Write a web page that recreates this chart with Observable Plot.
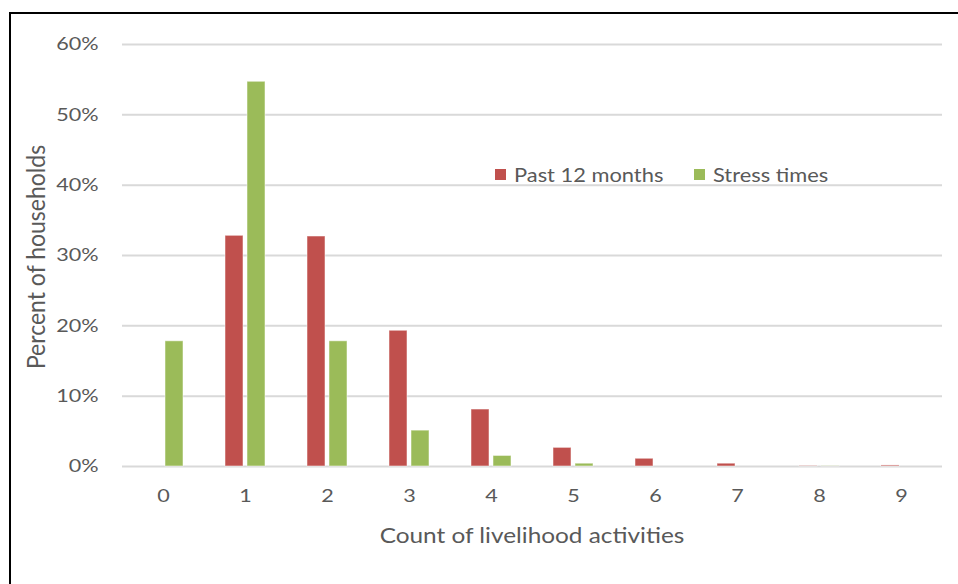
<!DOCTYPE html>
<html>
<head>
<meta charset="utf-8">
<script src="https://cdn.jsdelivr.net/npm/d3@7"></script>
<script src="https://cdn.jsdelivr.net/npm/@observablehq/plot@0.6"></script>
<style>
  html, body { margin: 0; padding: 0; background: #fff; }
  #wrap { position: relative; width: 958px; height: 584px; overflow: hidden; font-family: Lato, "Open Sans", sans-serif; color: #595959; }
  #frame { position: absolute; left: 9px; top: 12px; width: 1000px; height: 700px; border-left: 2px solid #000; border-top: 2px solid #000; box-sizing: border-box; }
  .ttl { position: absolute; color: #595959; white-space: nowrap; }
  .leg { position: absolute; top: 163px; font-size: 19px; color: #595959; white-space: nowrap; height: 24px; line-height: 24px; }
  .leg .sw { position: absolute; left: 0; top: 6px; width: 11px; height: 11px; }
  .leg .tx { position: absolute; left: 19px; top: 0; transform: scaleX(1.15); transform-origin: left center; }
</style>
</head>
<body>
<div id="wrap">
  <div id="chart"></div>
  <div id="frame"></div>
  <div class="ttl" id="xt" style="left:532px; top:522px; font-size:21px; transform: translateX(-50%) scaleX(1.16);">Count of livelihood activities</div>
  <div class="ttl" id="yt" style="left:35px; top:257px; font-size:23px; transform: translate(-50%,-50%) rotate(-90deg) scaleY(1.1);">Percent of households</div>
</div>
<script>
const categories = ["0","1","2","3","4","5","6","7","8","9"];
const seriesNames = ["Past 12 months", "Stress times"];
const past12 = [0, 32.8, 32.7, 19.3, 8.1, 2.65, 1.1, 0.4, 0.05, 0.15];
const stress = [17.8, 54.7, 17.8, 5.1, 1.5, 0.4, 0, 0, 0.03, 0];
const yTicks = [0, 10, 20, 30, 40, 50, 60];
const colors = ["#C0504D", "#9BBB59"];

const data = [];
categories.forEach((c, i) => {
  data.push({cat: c, series: seriesNames[0], value: past12[i]});
  data.push({cat: c, series: seriesNames[1], value: stress[i]});
});

const chart = Plot.plot({
  width: 958,
  height: 584,
  marginLeft: 122,
  marginRight: 16,
  marginTop: 44,
  marginBottom: 118,
  style: { fontFamily: "Lato, 'Open Sans', sans-serif", fontSize: "18px", color: "#595959", background: "transparent" },
  fx: { domain: categories, padding: 0, label: null, axis: "bottom", tickSize: 0, tickPadding: 23 },
  x: { domain: seriesNames, paddingInner: 0.174, paddingOuter: 0.87, axis: null },
  y: { domain: [0, 60], ticks: yTicks, tickFormat: d => d + "%", tickSize: 0, tickPadding: 24, label: null },
  color: { domain: seriesNames, range: colors },
  marks: [
    Plot.ruleY(yTicks, { stroke: "#d9d9d9", strokeWidth: 2 }),
    Plot.barY(data, { fx: "cat", x: "series", y: "value", fill: "series", stroke: "#fff", strokeOpacity: 0.5, strokeWidth: 1 })
  ]
});
document.getElementById("chart").appendChild(chart);

// widen tick label glyphs horizontally about their anchor, as in the reference
chart.querySelectorAll("text").forEach(t => {
  const tr = t.getAttribute("transform");
  if (tr) {
    t.setAttribute("transform", tr + " scale(1.2,1)");
  } else {
    const x = +(t.getAttribute("x") || 0), y = +(t.getAttribute("y") || 0);
    t.setAttribute("x", 0); t.setAttribute("y", 0);
    t.setAttribute("transform", `translate(${x},${y}) scale(1.2,1)`);
  }
});

const legendLeft = [495, 694];
const wrap = document.getElementById("wrap");
seriesNames.forEach((s, i) => {
  const it = document.createElement("div");
  it.className = "leg";
  it.style.left = legendLeft[i] + "px";
  const sw = document.createElement("span");
  sw.className = "sw";
  sw.style.background = colors[i];
  const tx = document.createElement("span");
  tx.className = "tx";
  tx.textContent = s;
  it.appendChild(sw);
  it.appendChild(tx);
  wrap.appendChild(it);
});
</script>
</body>
</html>
